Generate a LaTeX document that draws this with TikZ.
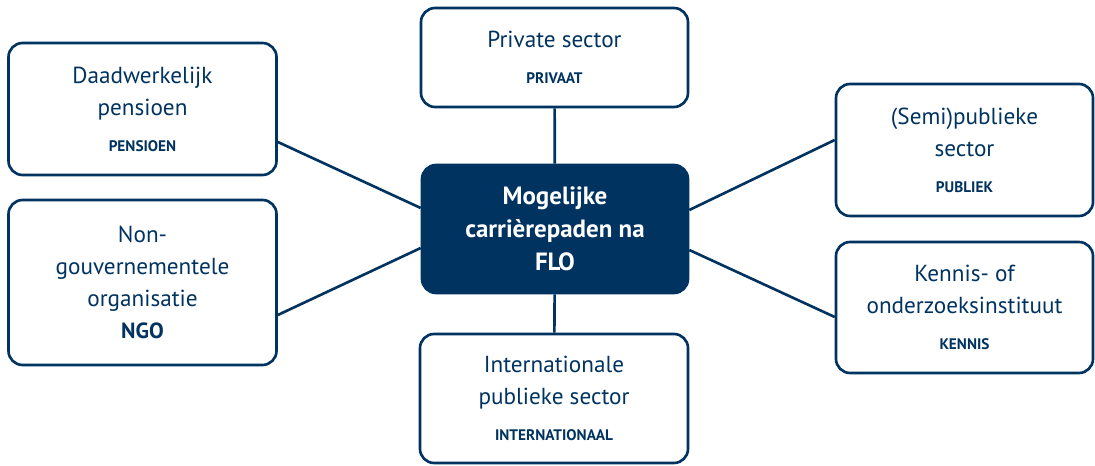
\documentclass[tikz,border=0pt]{standalone}
\usepackage{fontspec}
\setmainfont{PT Sans}
\usetikzlibrary{positioning}

\definecolor{flonavy}{RGB}{0,51,96}
\newcommand{\padtag}[1]{{\fontsize{8.7}{18.5}\selectfont\bfseries #1}}

\tikzset{
  padbox/.style={draw=flonavy, line width=1.5pt, rounded corners=8pt, fill=white,
    text=flonavy, align=center, inner sep=0pt, font=\fontsize{13.2}{18.3}\selectfont},
  hubbox/.style={padbox, fill=flonavy, text=white, font=\fontsize{14.2}{18.8}\selectfont\bfseries},
  link/.style={draw=flonavy, line width=1.5pt}
}

\begin{document}
\begin{tikzpicture}
  \useasboundingbox (0,0) rectangle (21.9,9.32);

  \node [hubbox, minimum width=5.32cm, minimum height=2.56cm] (hub) at (11.10,4.74)
    {Mogelijke\\carrièrepaden na\\FLO};

  \node [padbox, minimum width=5.34cm, minimum height=1.98cm] (priv) at (11.09,8.17)
    {Private sector\\[2pt]\padtag{PRIVAAT}};
  \node [padbox, minimum width=5.36cm, minimum height=2.64cm] (pens) at (2.85,7.14)
    {Daadwerkelijk\\pensioen\\[2pt]\padtag{PENSIOEN}};
  \node [padbox, minimum width=5.36cm, minimum height=3.30cm] (ngo) at (2.85,3.67)
    {Non-\\gouvernementele\\organisatie\\{\fontsize{12.5}{18.3}\selectfont\bfseries NGO}};
  \node [padbox, minimum width=5.14cm, minimum height=2.64cm] (publ) at (19.29,6.32)
    {(Semi)publieke\\sector\\[2pt]\padtag{PUBLIEK}};
  \node [padbox, minimum width=5.14cm, minimum height=2.62cm] (kenn) at (19.29,3.17)
    {Kennis- of\\onderzoeksinstituut\\[2pt]\padtag{KENNIS}};
  \node [padbox, minimum width=5.36cm, minimum height=2.58cm] (intl) at (11.08,1.35)
    {Internationale\\publieke sector\\[2pt]\padtag{INTERNATIONAAL}};

  \draw [link] (priv) -- (hub);
  \draw [link] (hub) -- (intl);
  \draw [link] ([yshift=-0.66cm]pens.east) -- ([yshift=0.42cm]hub.west);
  \draw [link] ([yshift=-0.65cm]ngo.east) -- ([yshift=-0.38cm]hub.west);
  \draw [link] ([yshift=0.38cm]hub.east) -- ([yshift=0.20cm]publ.west);
  \draw [link] ([yshift=-0.42cm]hub.east) -- ([yshift=-0.19cm]kenn.west);
\end{tikzpicture}
\end{document}
